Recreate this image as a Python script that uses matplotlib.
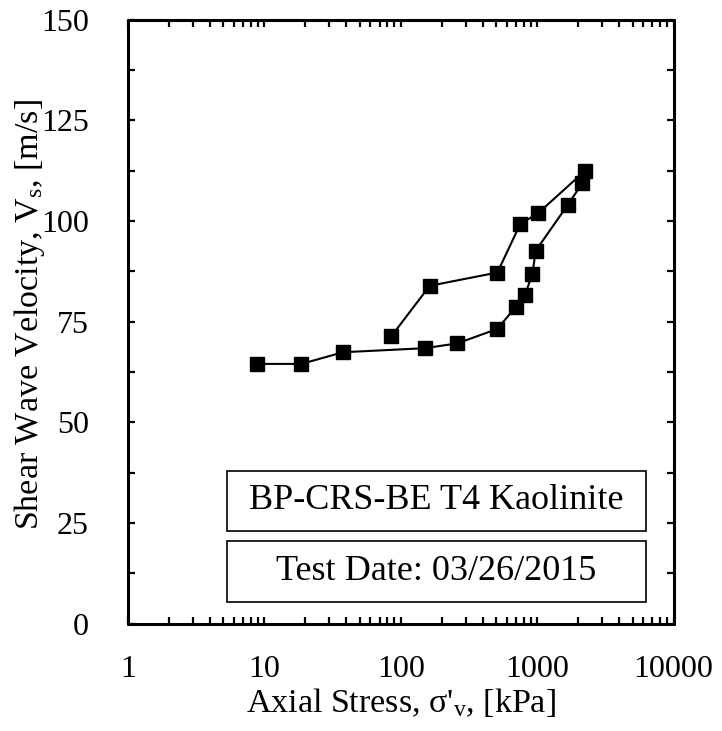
import numpy as np
import matplotlib
matplotlib.use("Agg")
import matplotlib.pyplot as plt
from matplotlib.patches import Rectangle
from matplotlib.ticker import LogLocator, FixedLocator, NullFormatter

plt.rcParams['font.family'] = ['Liberation Serif', 'DejaVu Serif']
plt.rcParams['mathtext.fontset'] = 'custom'
plt.rcParams['mathtext.rm'] = 'Liberation Serif'
plt.rcParams['mathtext.it'] = 'Liberation Serif:italic'

# данные: нагрузка, затем разгрузка
stress = [8.8, 18.7, 37.8, 150, 260, 511, 695, 810, 923, 975, 1683, 2143, 2228,
          1014, 753, 511, 163, 85.5]
vs = [64.5, 64.5, 67.4, 68.4, 69.6, 73.2, 78.6, 81.5, 86.8, 92.6, 104.1, 109.4, 112.4,
      101.9, 99.3, 87.2, 83.9, 71.4]

x_ticks = [1, 10, 100, 1000, 10000]
x_tick_labels = ["1", "10", "100", "1000", "10000"]
y_ticks = [0, 25, 50, 75, 100, 125, 150]

box_texts = ["BP-CRS-BE T4 Kaolinite", "Test Date: 03/26/2015"]

fig = plt.figure(figsize=(7.22, 7.31), dpi=100)
ax = fig.add_axes([0.177, 0.147, 0.756, 0.826])

ax.plot(stress, vs, color='black', linewidth=1.5, marker='s', markersize=9.5,
        markerfacecolor='black', markeredgecolor='black')

ax.set_xscale('log')
ax.set_xlim(1, 10000)
ax.set_ylim(0, 150)
ax.set_xticks(x_ticks)
ax.set_xticklabels(x_tick_labels)
ax.xaxis.set_minor_locator(LogLocator(base=10, subs=np.arange(2, 10)))
ax.xaxis.set_minor_formatter(NullFormatter())
ax.set_yticks(y_ticks)
ax.yaxis.set_minor_locator(FixedLocator(np.arange(12.5, 150, 25)))

for s in ax.spines.values():
    s.set_linewidth(2.2)
    s.set_capstyle('round')
    s.set_joinstyle('round')

ax.tick_params(which='both', direction='in', top=True, right=True,
               width=1.6, length=5)
ax.tick_params(axis='x', which='major', labelsize=23, pad=23)
ax.tick_params(axis='y', which='major', labelsize=23, pad=28)

ax.set_xlabel(r"Axial Stress, σ'$_\mathrm{v}$, [kPa]", fontsize=24.5)
ax.set_ylabel(r"Shear Wave Velocity, V$_\mathrm{s}$, [m/s]", fontsize=24.5)
ax.xaxis.set_label_coords(0.5, -0.104)
ax.yaxis.set_label_coords(-0.148, 0.511)

# рамки с подписями
boxes = [(0.181, 0.154, 0.768, 0.098), (0.181, 0.036, 0.768, 0.100)]
for (bx, by, bw, bh), txt in zip(boxes, box_texts):
    ax.add_patch(Rectangle((bx, by), bw, bh, transform=ax.transAxes,
                           facecolor='white', edgecolor='black', linewidth=1.2,
                           zorder=3))
    ax.text(bx + bw / 2, by + bh / 2, txt, transform=ax.transAxes,
            ha='center', va='center', fontsize=26, zorder=4)

fig.savefig("out.png", dpi=100)
